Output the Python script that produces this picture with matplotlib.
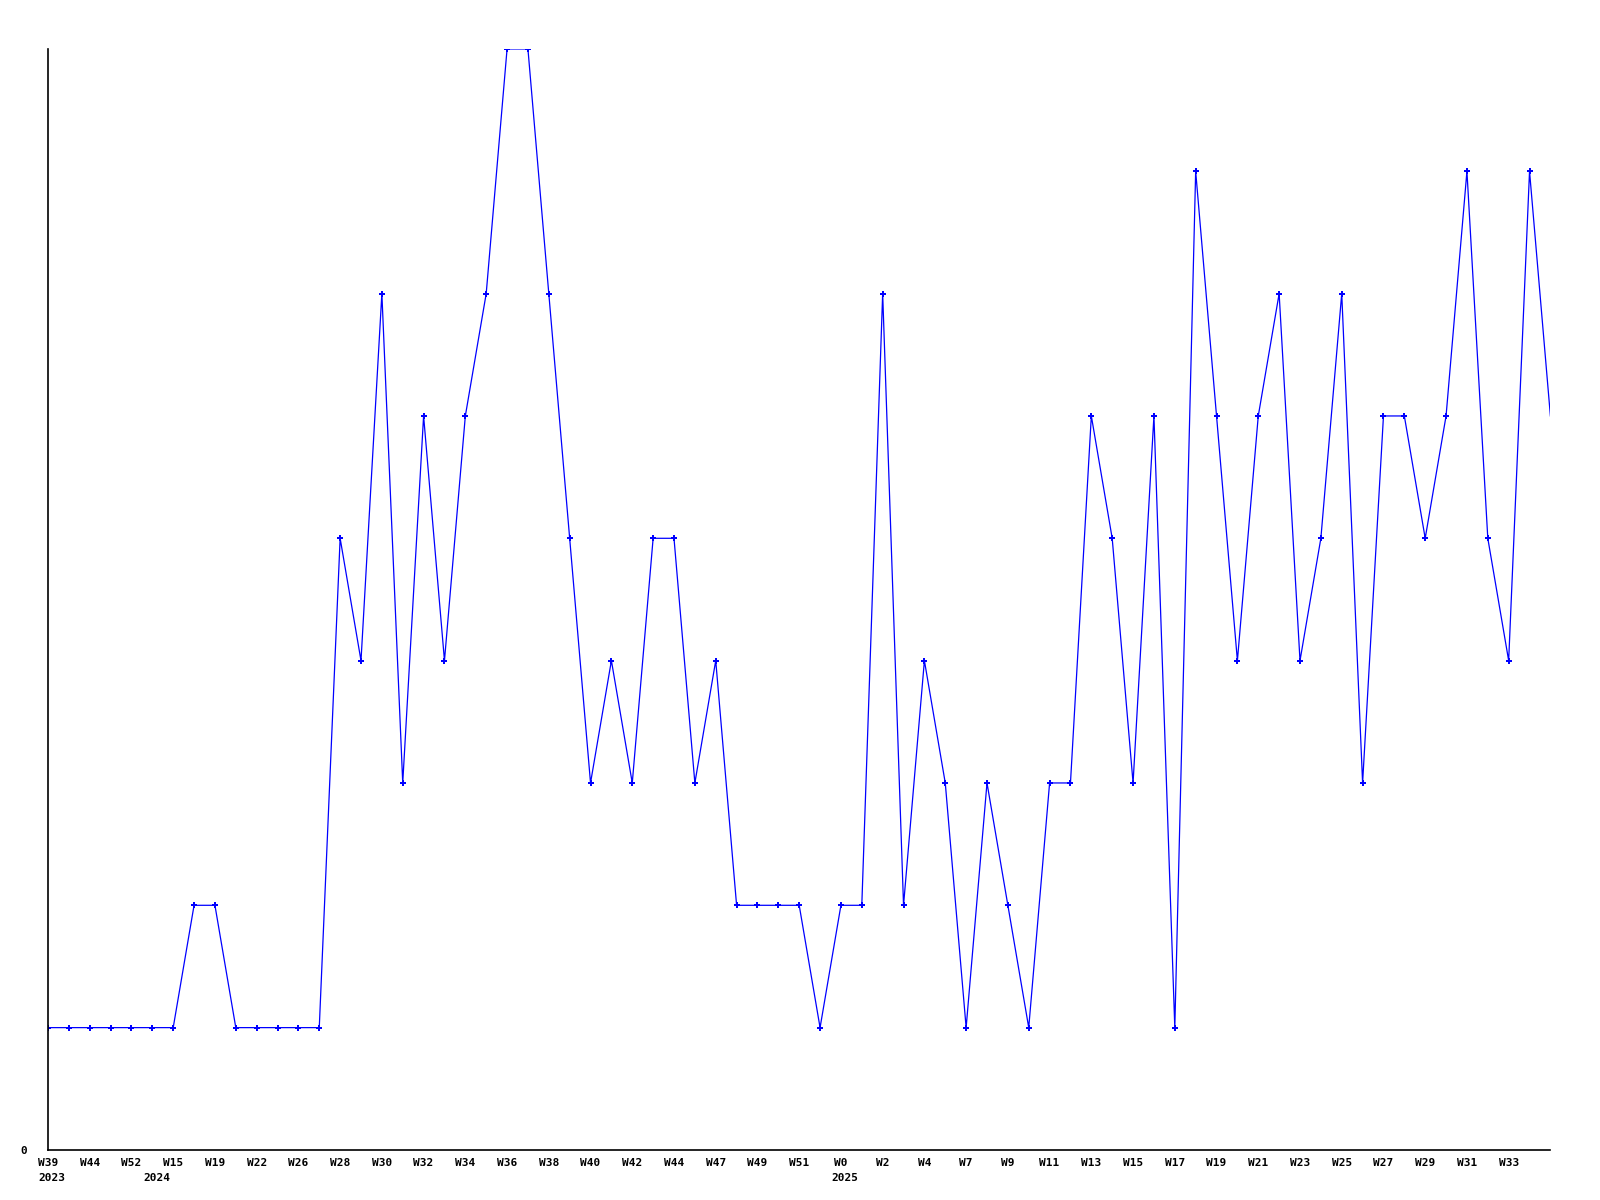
import matplotlib
matplotlib.use("Agg")
import matplotlib.pyplot as plt
import matplotlib.transforms as mtransforms

# weekly values, one per point
values = [1, 1, 1, 1, 1, 1, 1, 2, 2, 1, 1, 1, 1, 1, 5, 4, 7, 3, 6, 4,
          6, 7, 9, 9, 7, 5, 3, 4, 3, 5, 5, 3, 4, 2, 2, 2, 2, 1, 2, 2,
          7, 2, 4, 3, 1, 3, 2, 1, 3, 3, 6, 5, 3, 6, 1, 8, 6, 4, 6, 7,
          4, 5, 7, 3, 6, 6, 5, 6, 8, 5, 4, 8, 6]

# labels shown on every second point
week_labels = ["W39", "W44", "W52", "W15", "W19", "W22", "W26", "W28", "W30",
               "W32", "W34", "W36", "W38", "W40", "W42", "W44", "W47", "W49",
               "W51", "W0", "W2", "W4", "W7", "W9", "W11", "W13", "W15", "W17",
               "W19", "W21", "W23", "W25", "W27", "W29", "W31", "W33"]

# year labels and the point index where each year starts
years = ["2023", "2024", "2025"]
year_idx = [0, 5, 38]

font = {"family": "DejaVu Sans Mono", "weight": "bold", "size": 8}

fig = plt.figure(figsize=(16, 12), dpi=100)
ax = fig.add_axes([0.03, 0.0417, 0.939, 0.9175])

x = list(range(len(values)))
ax.plot(x, values, color="#0000ff", lw=0.9, marker="P", ms=4.5, mew=0,
        markevery=list(range(len(values) - 1)))

ax.set_xlim(0, len(values) - 1)
ax.set_ylim(0, 9)

for s in ["top", "right"]:
    ax.spines[s].set_visible(False)
for s in ["left", "bottom"]:
    ax.spines[s].set_linewidth(1.2)

ax.set_yticks([0])
ax.set_yticklabels(["0"], fontdict=font)
ax.tick_params(axis="y", length=0, pad=15)

ax.set_xticks(x[::2][:len(week_labels)])
ax.set_xticklabels(week_labels, fontdict=font)
ax.tick_params(axis="x", length=0, pad=6)

trans = mtransforms.blended_transform_factory(ax.transData, ax.transAxes)
for yr, i in zip(years, year_idx):
    ax.text(i + 0.2, -0.021, yr, transform=trans, ha="center", va="top",
            fontdict=font)

fig.savefig("out.png", dpi=100, facecolor="white")
